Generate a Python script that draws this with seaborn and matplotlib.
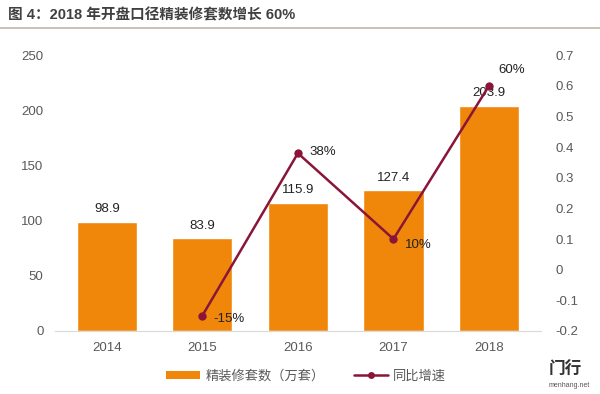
import matplotlib
matplotlib.use("Agg")
import matplotlib.pyplot as plt
import seaborn as sns
import pandas as pd
from matplotlib.lines import Line2D
from matplotlib.patches import Patch

years = ["2014", "2015", "2016", "2017", "2018"]
units = [98.9, 83.9, 115.9, 127.4, 203.9]
growth_years = ["2015", "2016", "2017", "2018"]
growth = [-0.15, 0.38, 0.10, 0.60]
growth_labels = ["-15%", "38%", "10%", "60%"]

sns.set_style("white")
plt.rcParams["font.family"] = ["Liberation Sans", "Noto Sans CJK SC", "DejaVu Sans"]

BAR = "#F0870A"
LINE = "#8A1538"
TICK = "#595959"

fig = plt.figure(figsize=(6, 3.94), dpi=100)
ax = fig.add_axes([0.091, 0.160, 0.811, 0.700])

df = pd.DataFrame({"year": years, "units": units})
sns.barplot(data=df, x="year", y="units", color=BAR, saturation=1, width=0.63, ax=ax)
ax.set_ylim(0, 250)
ax.set_yticks(range(0, 251, 50))
ax.set_xlabel("")
ax.set_ylabel("")
for s in ["top", "right", "left"]:
    ax.spines[s].set_visible(False)
ax.spines["bottom"].set_color("#d9d9d9")
ax.tick_params(axis="y", length=0, pad=8, labelsize=9.5, labelcolor=TICK)
ax.tick_params(axis="x", length=0, pad=8, labelsize=9.5, labelcolor=TICK)
for i, v in enumerate(units):
    ax.text(i, v + 6, f"{v:.1f}", ha="center", va="bottom", fontsize=9.5, color="#222222")

ax2 = ax.twinx()
gdf = pd.DataFrame({"pos": [years.index(y) for y in growth_years], "growth": growth})
sns.lineplot(data=gdf, x="pos", y="growth", color=LINE, lw=1.8, marker="o",
             markersize=6, markeredgewidth=0, ax=ax2)
ax2.set_ylim(-0.2, 0.7)
ax2.set_yticks([-0.2, -0.1, 0, 0.1, 0.2, 0.3, 0.4, 0.5, 0.6, 0.7])
ax2.set_yticklabels(["-0.2", "-0.1", "0", "0.1", "0.2", "0.3", "0.4", "0.5", "0.6", "0.7"])
ax2.set_xlim(ax.get_xlim())
ax2.set_xlabel("")
ax2.set_ylabel("")
for s in ["top", "right", "left", "bottom"]:
    ax2.spines[s].set_visible(False)
ax2.tick_params(axis="y", length=0, pad=10, labelsize=9.5, labelcolor=TICK)

offsets = [(0.12, -0.01, "left", "center"), (0.12, 0.005, "left", "center"),
           (0.12, -0.02, "left", "center"), (0.1, 0.05, "left", "center")]
for (p, g, lab), (dx, dy, ha, va) in zip(zip(gdf["pos"], growth, growth_labels), offsets):
    ax2.text(p + dx, g + dy, lab, ha=ha, va=va, fontsize=9.5, color="#222222")

fig.text(0.013, 0.962, "图 4：2018 年开盘口径精装修套数增长 60%", fontsize=10.5,
         fontweight="bold", color="#404040", va="center", ha="left")
fig.add_artist(Line2D([0, 1], [0.929, 0.929], color="#bfb8a8", lw=1.2))

handles = [Patch(facecolor=BAR, edgecolor="none"),
           Line2D([0], [0], color=LINE, lw=1.8, marker="o", markersize=5, markeredgewidth=0)]
fig.legend(handles, ["精装修套数（万套）", "同比增速"], loc="center", ncol=2,
           bbox_to_anchor=(0.51, 0.045), frameon=False, fontsize=9.5,
           handlelength=2.6, handleheight=0.5, columnspacing=2.2, handletextpad=0.4,
           labelcolor=TICK)

fig.text(0.915, 0.06, "门行", fontsize=12, fontweight="bold", color="#333333", ha="left", va="center")
fig.text(0.915, 0.022, "menhang.net", fontsize=5, color="#555555", ha="left", va="center")

fig.savefig("out.png", dpi=100)
